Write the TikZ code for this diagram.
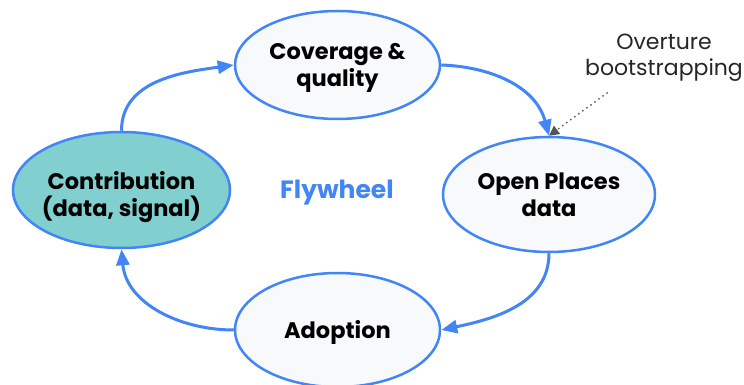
\documentclass[tikz,border=0pt]{standalone}
\usepackage{fontspec}
\setmainfont{Poppins}
\usepackage{tikz}
\usetikzlibrary{arrows.meta}
\usetikzlibrary{shapes.geometric}

\definecolor{flyblue}{HTML}{4285F4}
\definecolor{stagefill}{HTML}{F8F9FB}
\definecolor{seedteal}{HTML}{81CFCE}
\definecolor{hintgray}{HTML}{555555}

\begin{document}
\begin{tikzpicture}[x=1pt,y=1pt,
  stage/.style={ellipse,draw=flyblue,line width=2.5pt,fill=stagefill,inner sep=-10pt,
    text height=48pt,align=center,font=\fontsize{22.5}{27}\selectfont\bfseries},
  turn/.style={-{Triangle[length=16pt,width=13pt]},draw=flyblue,line width=3pt},
  hint/.style={-{Triangle[length=10pt,width=10pt]},draw=hintgray,line width=2pt,
    dash pattern=on 0pt off 5pt,line cap=round}]

  \useasboundingbox (0,0) rectangle (744,385);

  \node[font=\fontsize{25}{27}\selectfont\bfseries,text=flyblue] (fly) at (337,192) {Flywheel};

  \node[stage,minimum width=205pt,minimum height=108pt] (cov) at (337.5,320) {Coverage \&\\quality};
  \node[stage,text height=45pt,minimum width=212pt,minimum height=115pt] (opn) at (549,190.5) {Open Places\\data};
  \node[stage,text height=23pt,minimum width=205pt,minimum height=114pt] (adp) at (337.5,55) {Adoption};
  \node[stage,fill=seedteal,text height=59pt,minimum width=217pt,minimum height=116pt] (ctb) at (121.5,195) {Contribution\\(data, signal)};

  % the loop, clockwise
  \draw[turn] (ctb.north) to[out=90,in=188] (cov.west);
  \draw[turn] (cov.east) to[out=-2,in=105] (opn.north);
  \draw[turn] (opn.south) to[out=-90,in=12] (adp.east);
  \draw[turn] (adp.west) to[out=180,in=-85] (ctb.south);

  % side note
  \node[font=\fontsize{22}{26}\selectfont,text=black!85,align=center] (ovt) at (664,327) {Overture\\bootstrapping};
  \coordinate (ovtend) at (607,292);
  \draw[hint] (ovtend) -- (opn.north);

\end{tikzpicture}
\end{document}
